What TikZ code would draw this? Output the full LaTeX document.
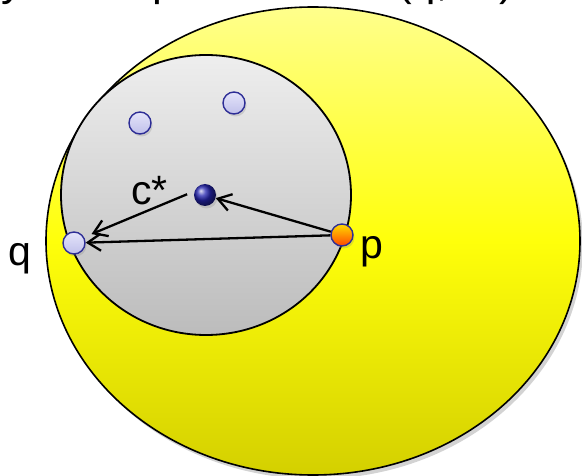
\documentclass[tikz,border=0pt]{standalone}
\usepackage{fontspec}
\setmainfont{Liberation Sans}
\usetikzlibrary{arrows.meta,shadows}
\definecolor{ytop}{RGB}{255,255,140}
\definecolor{ymid}{RGB}{255,255,10}
\definecolor{ybot}{RGB}{212,208,0}
\definecolor{gtop}{RGB}{238,238,238}
\definecolor{gbot}{RGB}{188,188,188}
\definecolor{ltop}{RGB}{228,228,250}
\definecolor{lbot}{RGB}{192,192,234}
\definecolor{dotedge}{RGB}{45,45,150}
\definecolor{ptop}{RGB}{255,220,0}
\definecolor{pbot}{RGB}{255,70,0}
\definecolor{cball}{RGB}{35,35,175}
\begin{document}
\begin{tikzpicture}[x=1pt,y=-1pt,
  bigtxt/.style={font=\fontsize{41}{48}\selectfont, inner sep=0pt, anchor=base west},
  titletxt/.style={font=\fontsize{44}{52}\selectfont, inner sep=0pt, anchor=base west},
  dotbase/.style={circle, inner sep=0pt, minimum size=22pt, draw=dotedge, line width=1.4pt,
    drop shadow={opacity=0.25, shadow xshift=1.5pt, shadow yshift=-2.5pt}},
  lightdot/.style={dotbase, top color=ltop, bottom color=lbot},
  pdot/.style={dotbase, top color=ptop, bottom color=pbot},
  cdot/.style={circle, inner sep=0pt, minimum size=22pt, shading=ball, ball color=cball,
    drop shadow={opacity=0.25, shadow xshift=1.5pt, shadow yshift=-2.5pt}},
  arr/.style={line width=2.3pt, -{Straight Barb[length=13pt,width=17pt,line width=2.3pt]}}
]
\useasboundingbox (0,0) rectangle (582,476);
\begin{scope}
\clip (0,0) rectangle (582,476);
% big yellow ellipse
\path[draw=black, line width=1.6pt, top color=ytop, bottom color=ybot, middle color=ymid,
  drop shadow={opacity=0.35, shadow xshift=3pt, shadow yshift=-4pt}]
  (313,241) ellipse [x radius=267, y radius=234];
% gray disc
\path[draw=black, line width=1.8pt, top color=gtop, bottom color=gbot]
  (206,195) ellipse [x radius=145, y radius=140];
% points
\node[lightdot] (a) at (140,123) {};
\node[lightdot] (b) at (234,103) {};
\node[cdot] (c) at (205,195) {};
\node[lightdot] (q) at (74,243) {};
\node[pdot] (p) at (342,235) {};
% connectors
\draw[arr] (p) -- (c);
\draw[arr, shorten <=8pt, shorten >=8pt] (c.160) -- (q.30);
\draw[arr] (p) -- (q);
% labels
\node[bigtxt] (lc) at (131,205) {c*};
\node[bigtxt] (lq) at (8.5,266) {q};
\node[bigtxt] (lp) at (360,259) {p};
% clipped title fragments (the reference shows only their lower edges)
\node[titletxt] (t1) at (1,-4) {y};
\node[titletxt] (t2) at (152,-4) {p};
\node[titletxt] (t3) at (397,-4) {(q, 2r)};
\end{scope}
\end{tikzpicture}
\end{document}
